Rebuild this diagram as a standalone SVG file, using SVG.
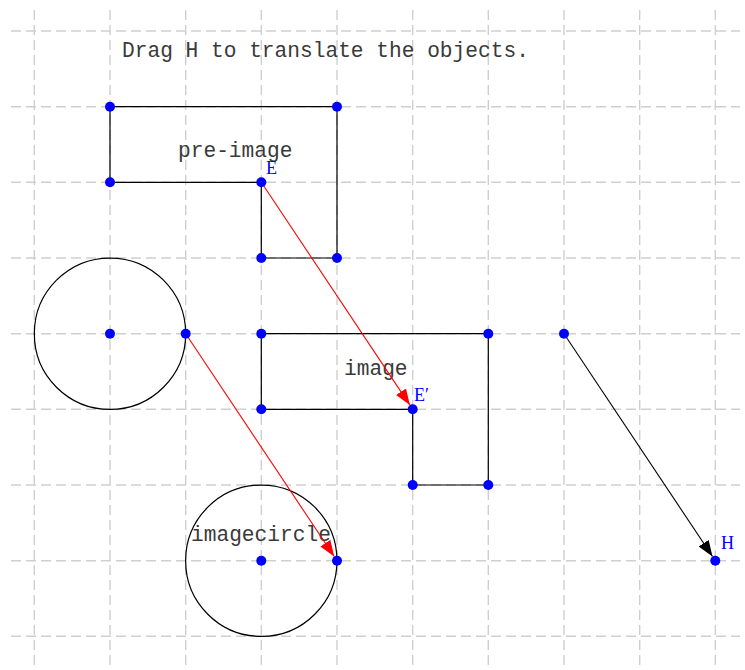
<svg xmlns="http://www.w3.org/2000/svg" width="745" height="670" viewBox="0 0 745 670">
<style>
.grid line{stroke:#cfcfcf;stroke-width:1.4;stroke-dasharray:10,5}
.shape{fill:none;stroke:#000;stroke-width:1.2}
.pt{fill:#0000ff}
.lbl{font-family:"Liberation Serif",serif;font-size:18px;fill:#0000ff}
.txt{font-family:"Liberation Mono","Courier New",monospace;font-size:21.2px;fill:#3a3a3a}
.red{stroke:#ff0000;stroke-width:1.1;fill:none}
.blk{stroke:#000;stroke-width:1.1;fill:none}
</style>
<defs>
<marker id="ar" markerUnits="userSpaceOnUse" markerWidth="16" markerHeight="12" refX="16" refY="6" orient="auto"><path d="M0,0 L16,6 L0,12 z" fill="#ff0000"/></marker>
<marker id="ab" markerUnits="userSpaceOnUse" markerWidth="16" markerHeight="12" refX="16" refY="6" orient="auto"><path d="M0,0 L16,6 L0,12 z" fill="#000"/></marker>
</defs>
<rect width="745" height="670" fill="#fff"/>
<g class="grid">
<line x1="34.3" y1="10" x2="34.3" y2="670"/>
<line x1="110" y1="10" x2="110" y2="670"/>
<line x1="185.7" y1="10" x2="185.7" y2="670"/>
<line x1="261.3" y1="10" x2="261.3" y2="670"/>
<line x1="337" y1="10" x2="337" y2="670"/>
<line x1="412.7" y1="10" x2="412.7" y2="670"/>
<line x1="488.3" y1="10" x2="488.3" y2="670"/>
<line x1="564" y1="10" x2="564" y2="670"/>
<line x1="639.7" y1="10" x2="639.7" y2="670"/>
<line x1="715.3" y1="10" x2="715.3" y2="670"/>
<line x1="11" y1="31" x2="740" y2="31"/>
<line x1="11" y1="106.7" x2="740" y2="106.7"/>
<line x1="11" y1="182.3" x2="740" y2="182.3"/>
<line x1="11" y1="258" x2="740" y2="258"/>
<line x1="11" y1="333.7" x2="740" y2="333.7"/>
<line x1="11" y1="409.3" x2="740" y2="409.3"/>
<line x1="11" y1="485" x2="740" y2="485"/>
<line x1="11" y1="560.7" x2="740" y2="560.7"/>
<line x1="11" y1="636.3" x2="740" y2="636.3"/>
</g>
<text class="txt" x="122" y="57">Drag H to translate the objects.</text>
<g id="preimage">
<polygon class="shape" points="110,106.7 337,106.7 337,258 261.3,258 261.3,182.3 110,182.3"/>
<text class="txt" x="178" y="157">pre-image</text>
</g>
<g id="circle">
<circle class="shape" cx="110" cy="333.7" r="75.67"/>
</g>
<g id="image">
<polygon class="shape" points="261.3,333.7 488.3,333.7 488.3,485 412.7,485 412.7,409.3 261.3,409.3"/>
<text class="txt" x="344" y="375">image</text>
</g>
<g id="imagecircle">
<circle class="shape" cx="261.3" cy="560.7" r="75.67"/>
<text class="txt" x="191" y="541">imagecircle</text>
</g>
<g id="connectors">
<line class="red" x1="261.3" y1="182.3" x2="409.9" y2="405.1" marker-end="url(#ar)"/>
<line class="red" x1="185.7" y1="333.7" x2="334.2" y2="556.5" marker-end="url(#ar)"/>
<line class="blk" x1="564" y1="333.7" x2="712.5" y2="556.5" marker-end="url(#ab)"/>
</g>
<g id="points">
<circle class="pt" cx="110" cy="106.7" r="5"/>
<circle class="pt" cx="337" cy="106.7" r="5"/>
<circle class="pt" cx="110" cy="182.3" r="5"/>
<circle class="pt" cx="261.3" cy="258" r="5"/>
<circle class="pt" cx="337" cy="258" r="5"/>
<circle class="pt" cx="110" cy="333.7" r="5"/>
<circle class="pt" cx="185.7" cy="333.7" r="5"/>
<circle class="pt" cx="261.3" cy="333.7" r="5"/>
<circle class="pt" cx="488.3" cy="333.7" r="5"/>
<circle class="pt" cx="564" cy="333.7" r="5"/>
<circle class="pt" cx="261.3" cy="409.3" r="5"/>
<circle class="pt" cx="412.7" cy="485" r="5"/>
<circle class="pt" cx="488.3" cy="485" r="5"/>
<circle class="pt" cx="261.3" cy="560.7" r="5"/>
<circle class="pt" cx="337" cy="560.7" r="5"/>
</g>
<g id="E">
<circle class="pt" cx="261.3" cy="182.3" r="5"/>
<text class="lbl" x="266" y="174">E</text>
</g>
<g id="Eprime">
<circle class="pt" cx="412.7" cy="409.3" r="5"/>
<text class="lbl" x="414" y="401">E′</text>
</g>
<g id="H">
<circle class="pt" cx="715.3" cy="560.7" r="5"/>
<text class="lbl" x="721" y="549">H</text>
</g>
</svg>
